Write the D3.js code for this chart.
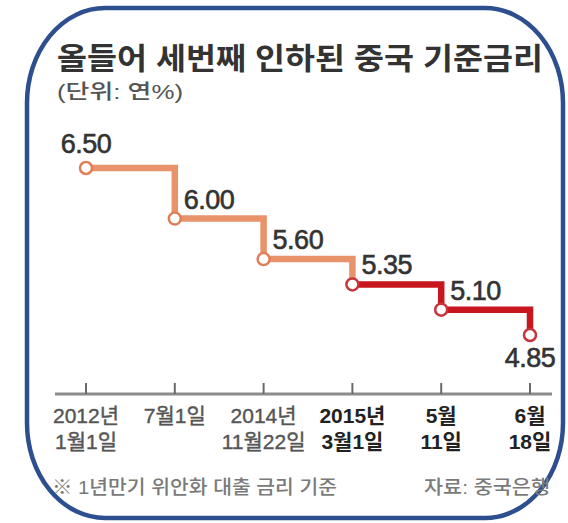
<!DOCTYPE html>
<html>
<head>
<meta charset="utf-8">
<script src="https://cdn.jsdelivr.net/npm/d3@7"></script>
<style>
	html, body { margin: 0; padding: 0; background: #fff; }
	svg { display: block; }
	text { font-family: "Liberation Sans", "Noto Sans CJK KR", sans-serif; }
</style>
</head>
<body>
<div id="grafica"></div>
<script>
// datos
var fechasArriba = ['2012년', '7월1일', '2014년', '2015년', '5월', '6월'];
var fechasAbajo = ['1월1일', '', '11월22일', '3월1일', '11일', '18일'];
var tasas = [6.50, 6.00, 5.60, 5.35, 5.10, 4.85];
var desdeEsteAnio = 3; // a partir de 2015

var titulo = '올들어 세번째 인하된 중국 기준금리';
var unidad = '(단위: 연%)';
var nota = '※ 1년만기 위안화 대출 금리 기준';
var fuente = '자료: 중국은행';

var W = 568, H = 523;
var naranja = '#e9936a', rojo = '#c8161f';

var g = d3.select('#grafica').append('svg')
	.attr('width', W)
	.attr('height', H);

// marco
g.append('rect')
	.attr('x', 27).attr('y', 8)
	.attr('width', 536).attr('height', 510)
	.attr('rx', 78).attr('ry', 95)
	.attr('fill', '#fff')
	.attr('stroke', '#2e4f8f')
	.attr('stroke-width', 4.5);

g.append('text')
	.attr('x', 57).attr('y', 69)
	.attr('font-family', '"Noto Sans CJK KR", sans-serif')
	.attr('font-size', 30).attr('font-weight', 700)
	.attr('fill', '#333')
	.attr('textLength', 486).attr('lengthAdjust', 'spacingAndGlyphs')
	.text(titulo);

g.append('text')
	.attr('x', 57).attr('y', 99)
	.attr('font-family', '"Noto Sans CJK KR", sans-serif')
	.attr('font-size', 20).attr('font-weight', 500)
	.attr('fill', '#555')
	.attr('textLength', 126).attr('lengthAdjust', 'spacingAndGlyphs')
	.text(unidad);

var x = d3.scalePoint()
	.domain(d3.range(tasas.length))
	.range([86, 530]);

var y = d3.scaleLinear()
	.domain([d3.min(tasas), d3.max(tasas)])
	.range([335, 168]);

var colorDe = function(i) { return i < desdeEsteAnio ? naranja : rojo; };

// eje
g.append('line')
	.attr('x1', 55).attr('x2', 552)
	.attr('y1', 394).attr('y2', 394)
	.attr('stroke', '#8c8c8c').attr('stroke-width', 3);

g.selectAll('.tick').data(tasas)
	.enter().append('line')
	.attr('class', 'tick')
	.attr('x1', function(d, i) { return x(i); })
	.attr('x2', function(d, i) { return x(i); })
	.attr('y1', 383).attr('y2', 394)
	.attr('stroke', '#6a6a6a').attr('stroke-width', 2);

var etiquetaFecha = function(datos, yBase) {
	g.selectAll(null).data(datos)
		.enter().append('text')
		.attr('x', function(d, i) { return x(i); })
		.attr('y', yBase)
		.attr('text-anchor', 'middle')
		.attr('font-size', 21)
		.attr('font-weight', function(d, i) { return i >= desdeEsteAnio ? 700 : 400; })
		.attr('fill', function(d, i) { return i >= desdeEsteAnio ? '#222' : '#555'; })
		.attr('stroke', function(d, i) { return i >= desdeEsteAnio ? 'none' : '#555'; })
		.attr('stroke-width', 0.4)
		.text(function(d) { return d; });
};
etiquetaFecha(fechasArriba, 423);
etiquetaFecha(fechasAbajo, 449);

// escalones
var tramos = d3.range(tasas.length - 1);
g.selectAll('.tramo').data(tramos)
	.enter().append('path')
	.attr('class', 'tramo')
	.attr('fill', 'none')
	.attr('stroke', colorDe)
	.attr('stroke-width', 6.5)
	.attr('d', function(i) {
		return 'M' + x(i) + ',' + y(tasas[i]) +
			'H' + x(i + 1) +
			'V' + y(tasas[i + 1]);
	});

g.selectAll('.punto').data(tasas)
	.enter().append('circle')
	.attr('class', 'punto')
	.attr('cx', function(d, i) { return x(i); })
	.attr('cy', function(d) { return y(d); })
	.attr('r', 6)
	.attr('fill', '#fff')
	.attr('stroke', function(d, i) { return i < desdeEsteAnio ? '#e07e58' : '#c8343c'; })
	.attr('stroke-width', 2.5);

var fmt = d3.format('.2f');
var ultimo = tasas.length - 1;
g.selectAll('.valor').data(tasas)
	.enter().append('text')
	.attr('class', 'valor')
	.attr('x', function(d, i) { return (i === 0 || i === ultimo) ? x(i) : x(i) + 9; })
	.attr('y', function(d, i) {
		if (i === 0) return y(d) - 15;
		if (i === ultimo) return y(d) + 32;
		return y(d) - 10;
	})
	.attr('text-anchor', function(d, i) { return (i === 0 || i === ultimo) ? 'middle' : 'start'; })
	.attr('font-size', 27)
	.attr('fill', '#333')
	.attr('stroke', '#333').attr('stroke-width', 0.6)
	.attr('letter-spacing', -0.5)
	.text(function(d) { return fmt(d); });

// pie
g.append('text')
	.attr('x', 52).attr('y', 494)
	.attr('font-family', '"Noto Sans CJK KR", sans-serif')
	.attr('font-size', 19).attr('font-weight', 500)
	.attr('fill', '#7a7a7a')
	.attr('textLength', 285).attr('lengthAdjust', 'spacingAndGlyphs')
	.text(nota);

g.append('text')
	.attr('x', 424).attr('y', 494)
	.attr('font-family', '"Noto Sans CJK KR", sans-serif')
	.attr('font-size', 19).attr('font-weight', 500)
	.attr('fill', '#7a7a7a')
	.attr('textLength', 126).attr('lengthAdjust', 'spacingAndGlyphs')
	.text(fuente);
</script>
</body>
</html>
